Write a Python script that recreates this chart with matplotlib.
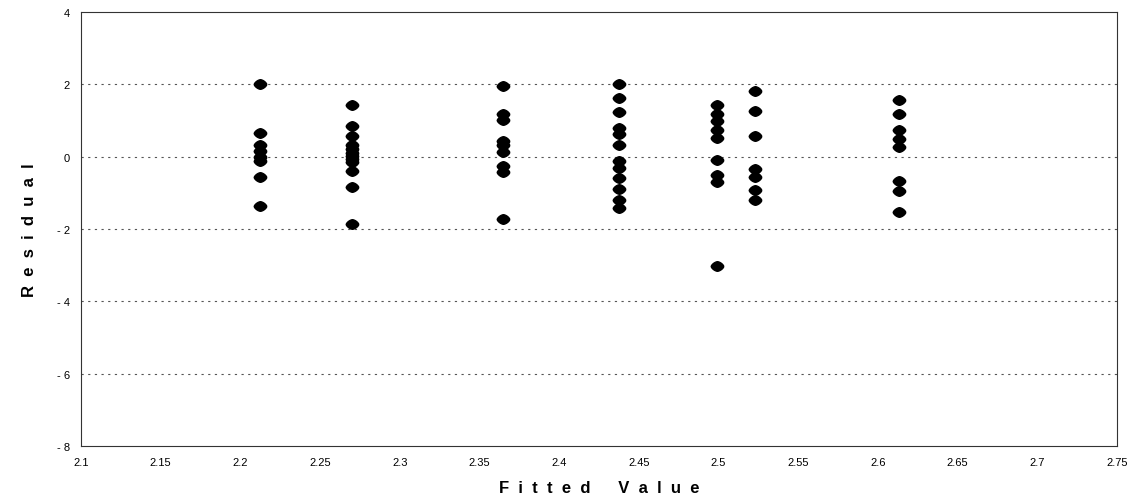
import numpy as np
import matplotlib
matplotlib.use("Agg")
import matplotlib.pyplot as plt

plt.rcParams['font.family'] = ['Liberation Sans', 'DejaVu Sans']

# Valores ajustados de cada grupo y sus residuos
fitted = [2.212, 2.270, 2.365, 2.4375, 2.499, 2.523, 2.613]
resid = [
    [2.0, 0.66, 0.33, 0.15, 0.0, -0.11, -0.57, -1.35],
    [1.42, 0.86, 0.56, 0.33, 0.2, 0.1, 0.02, -0.05, -0.15, -0.4, -0.84, -1.86],
    [1.95, 1.19, 1.01, 0.44, 0.31, 0.12, -0.25, -0.41, -1.72],
    [2.0, 1.61, 1.23, 0.80, 0.64, 0.31, -0.13, -0.32, -0.58, -0.90, -1.19, -1.43],
    [1.42, 1.19, 0.98, 0.75, 0.52, -0.10, -0.50, -0.70, -3.02],
    [1.81, 1.26, 0.58, -0.33, -0.57, -0.92, -1.20],
    [1.56, 1.17, 0.73, 0.49, 0.27, -0.66, -0.94, -1.52],
]

x_ticks = [2.1, 2.15, 2.2, 2.25, 2.3, 2.35, 2.4, 2.45, 2.5, 2.55, 2.6, 2.65, 2.7, 2.75]
x_labels = ["2.1", "2.15", "2.2", "2.25", "2.3", "2.35", "2.4", "2.45", "2.5",
            "2.55", "2.6", "2.65", "2.7", "2.75"]
y_ticks = [-8, -6, -4, -2, 0, 2, 4]
y_labels = ["- 8", "- 6", "- 4", "- 2", "0", "2", "4"]

# marcador: rombo redondeado, mas ancho que alto
t = np.linspace(0, 2 * np.pi, 48)
c, s = np.cos(t), np.sin(t)
marca = np.column_stack([1.3 * np.sign(c) * np.abs(c) ** 1.3, np.sign(s) * np.abs(s) ** 1.3])

fig = plt.figure(figsize=(11.4, 5.02), dpi=100)
ax = fig.add_axes([0.0711, 0.1096, 0.9087, 0.8644])

# Lineas punteadas horizontales
for yv in [2, 0, -2, -4, -6]:
    ax.axhline(yv, color='#555555', linestyle=(0, (2, 4)), linewidth=0.8, zorder=1)

for fv, rs in zip(fitted, resid):
    ax.plot([fv] * len(rs), rs, linestyle='none', marker=marca, markersize=9,
            color='black', zorder=3)

ax.set_xlim(2.1, 2.75)
ax.set_ylim(-8, 4)
ax.set_xticks(x_ticks)
ax.set_xticklabels(x_labels)
ax.set_yticks(y_ticks)
ax.set_yticklabels(y_labels)
ax.tick_params(length=0, labelsize=8, pad=8)

for sp in ax.spines.values():
    sp.set_linewidth(0.8)
    sp.set_color('#333333')

ax.set_xlabel("F  i  t  t  e  d      V  a  l  u  e", fontsize=12, fontweight='bold',
              labelpad=9)
ax.set_ylabel("R  e  s  i  d  u  a  l", fontsize=12, fontweight='bold', labelpad=14)

fig.savefig("out.png", dpi=100)
